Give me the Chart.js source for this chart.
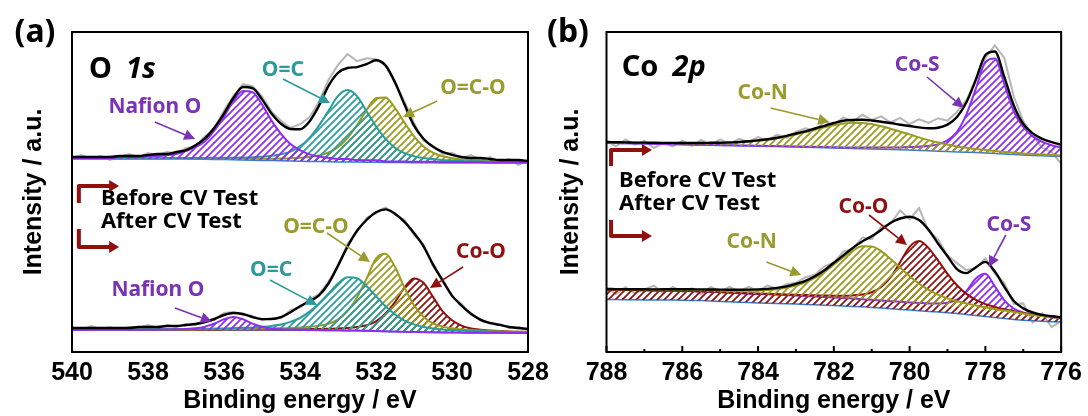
<!DOCTYPE html>
<html>
<head>
<meta charset="utf-8">
<script src="https://cdn.jsdelivr.net/npm/chart.js@4.4.1/dist/chart.umd.min.js"></script>
<style>
  html, body { margin: 0; padding: 0; background: #fff; }
  #wrap { position: relative; width: 1088px; height: 416px; overflow: hidden; }
  canvas { position: absolute; top: 0; }
  #chartA { left: 0; }
  #chartB { left: 544px; }
</style>
</head>
<body>
<div id="wrap">
  <canvas id="chartA" width="568" height="416"></canvas>
  <canvas id="chartB" width="544" height="416"></canvas>
</div>
<script>
// ---- O 1s (panel a) ----
const energyO1s = [
  540, 539.75, 539.5, 539.25, 539, 538.75, 538.5, 538.25, 538, 537.75, 537.5, 537.25, 537, 536.75, 536.5, 536.25,
  536, 535.75, 535.5, 535.25, 535, 534.75, 534.5, 534.25, 534, 533.75, 533.5, 533.25, 533, 532.75, 532.5, 532.25,
  532, 531.75, 531.5, 531.25, 531, 530.75, 530.5, 530.25, 530, 529.75, 529.5, 529.25, 529, 528.75, 528.5, 528.25,
  528
];

// before CV: background and peak heights above it
const bgO1sBefore = [
  193, 193, 193, 193, 193, 193, 193, 193, 193, 193, 193, 193, 192.9, 192.8, 192.7, 192.6,
  192.4, 192.2, 192, 191.8, 191.6, 191.4, 191.2, 191, 190.8, 190.6, 190.4, 190.2, 190.1, 190, 189.9, 189.8,
  189.7, 189.6, 189.5, 189.4, 189.3, 189.2, 189.2, 189.1, 189.1, 189, 189, 189, 189, 189, 189, 189,
  189
];
const nafionO1sBefore = [
  1, 1, 1, 1, 1, 2, 2, 2, 3, 3, 4, 5, 8, 12, 18, 29,
  43, 59, 69, 68, 56, 40, 27, 17, 11, 7, 5, 4, 3, 3, 2, 2,
  2, 1, 1, 1, 1, 1, 1, 1, 1, 1, 1, 1, 0.5, 0.5, 0.5, 0.4,
  0.4
];
const ocO1sBefore = [
  0.4, 0.4, 0.4, 0.5, 0.5, 0.6, 0.6, 0.7, 0.7, 0.8, 0.9, 1.0, 1.1, 1.2, 1.4, 1.6,
  1.8, 2.1, 2.5, 3.0, 3.7, 4.8, 6.5, 9.4, 14.8, 23.5, 36, 51, 66, 72, 66, 51,
  36, 23.5, 14.8, 9.4, 6.5, 4.8, 3.7, 3.0, 2.5, 2.1, 1.8, 1.6, 1.4, 1.2, 1.1, 1.0,
  0.9
];
const ocoO1sBefore = [
  0.3, 0.3, 0.3, 0.3, 0.3, 0.4, 0.4, 0.4, 0.4, 0.5, 0.5, 0.6, 0.6, 0.7, 0.8, 0.9,
  1.0, 1.1, 1.2, 1.4, 1.6, 1.9, 2.2, 2.7, 3.4, 4.4, 6.2, 9.3, 14.8, 24, 37, 52,
  64, 65, 54.5, 40, 26.4, 16.4, 10.1, 6.6, 4.7, 3.6, 2.9, 2.4, 2.0, 1.7, 1.5, 1.3,
  1.1
];
const envO1sBefore = [
  2, 2, 2, 2, 2, 3, 3, 3, 4, 5, 5, 7, 9, 14, 21, 32,
  46, 62, 73, 72, 61, 47, 37, 32, 32, 40, 56, 76, 89, 94, 95, 98,
  102, 97, 80, 58, 37, 24, 16, 11, 8, 6, 5, 5, 4, 3, 3, 3,
  2
];
const rawO1sBefore = [
  1, 4, 0, 3, -1, 2, 5, 2, 6, 4, 7, 6, 11, 13, 23, 31,
  49, 64, 76, 74, 64, 49, 40, 33, 37, 44, 60, 82, 97, 108, 101, 104,
  103, 97, 81, 61, 40, 22, 17, 9, 10, 5, 8, 3, 6, 1, 4, -2,
  3
];

// after CV
const bgO1sAfter = [
  22, 22, 22, 22, 22, 22, 22, 22, 22, 22, 22, 22, 22, 22, 22, 22,
  22, 22, 22, 21.9, 21.9, 21.9, 21.8, 21.8, 21.7, 21.7, 21.6, 21.5, 21.4, 21.3, 21.2, 21,
  20.8, 20.6, 20.3, 20.1, 19.9, 19.7, 19.6, 19.5, 19.4, 19.3, 19.2, 19.2, 19.1, 19.1, 19, 19,
  19
];
const nafionO1sAfter = [
  0.1, 0.1, 0.2, 0.2, 0.2, 0.2, 0.3, 0.3, 0.3, 0.4, 0.5, 0.7, 1.0, 1.7, 3.4, 6.5,
  10.7, 13, 10.7, 6.5, 3.4, 1.7, 1.0, 0.7, 0.5, 0.4, 0.3, 0.3, 0.3, 0.2, 0.2, 0.2,
  0.2, 0.1, 0.1, 0.1, 0.1, 0.1, 0.1, 0.1, 0.1, 0.1, 0.1, 0.1, 0.1, 0.1, 0.1, 0.1,
  0.1
];
const ocO1sAfter = [
  0.4, 0.4, 0.4, 0.4, 0.5, 0.5, 0.6, 0.6, 0.7, 0.7, 0.8, 0.9, 1.0, 1.1, 1.3, 1.4,
  1.6, 1.9, 2.2, 2.7, 3.3, 4.2, 5.7, 8.3, 12.3, 18.7, 27, 36.9, 47.1, 53.4, 52.5, 45.1,
  35.1, 25.1, 17.3, 11.3, 7.7, 5.3, 4.0, 3.1, 2.5, 2.2, 1.8, 1.6, 1.4, 1.2, 1.1, 1.0,
  0.9
];
const ocoO1sAfter = [
  0.2, 0.2, 0.3, 0.3, 0.3, 0.3, 0.3, 0.4, 0.4, 0.4, 0.5, 0.5, 0.5, 0.6, 0.7, 0.7,
  0.8, 0.9, 1.1, 1.2, 1.4, 1.7, 2.0, 2.3, 2.9, 3.6, 4.7, 6.8, 10.9, 19.5, 33.2, 52.3,
  72.5, 77.6, 64.7, 44.3, 26.8, 15.6, 9.1, 5.9, 4.3, 3.4, 2.7, 2.2, 1.9, 1.6, 1.3, 1.2,
  1.0
];
const cooO1sAfter = [
  0.1, 0.1, 0.1, 0.1, 0.2, 0.2, 0.2, 0.2, 0.2, 0.2, 0.2, 0.2, 0.3, 0.3, 0.3, 0.3,
  0.4, 0.4, 0.5, 0.5, 0.6, 0.7, 0.8, 0.9, 1.0, 1.2, 1.4, 1.7, 2.2, 2.8, 3.8, 5.7,
  9.9, 18, 29.7, 44.3, 53.7, 49.5, 35.5, 21.3, 12.3, 7.1, 4.4, 3.1, 2.4, 1.8, 1.5, 1.3,
  1.1
];
const envO1sAfter = [
  2, 2, 2, 2, 2, 2, 2, 3, 3, 3, 4, 4, 5, 6, 8, 11,
  15, 17, 16, 13, 11, 11, 13, 18, 24, 29, 35, 47, 65, 84, 100, 111,
  119, 122, 118, 110, 99, 86, 68, 52, 37, 27, 19, 13, 10, 8, 6, 5,
  4
];
const rawO1sAfter = [
  3, 0, 4, 1, 3, 0, 3, 2, 5, 2, 5, 3, 6, 5, 10, 10,
  17, 18, 15, 14, 10, 12, 12, 20, 23, 31, 36, 49, 64, 87, 99, 113,
  118, 124, 117, 112, 97, 88, 66, 54, 36, 29, 18, 14, 9, 9, 5, 6,
  3
];

// ---- Co 2p (panel b) ----
const energyCo2p = [
  788, 787.75, 787.5, 787.25, 787, 786.75, 786.5, 786.25, 786, 785.75, 785.5, 785.25, 785, 784.75, 784.5, 784.25,
  784, 783.75, 783.5, 783.25, 783, 782.75, 782.5, 782.25, 782, 781.75, 781.5, 781.25, 781, 780.75, 780.5, 780.25,
  780, 779.75, 779.5, 779.25, 779, 778.75, 778.5, 778.25, 778, 777.75, 777.5, 777.25, 777, 776.75, 776.5, 776.25,
  776
];

const bgCo2pBefore = [
  209, 208.8, 208.6, 208.4, 208.2, 208, 207.8, 207.6, 207.4, 207.2, 207, 206.8, 206.6, 206.4, 206.2, 206,
  205.8, 205.6, 205.4, 205.2, 205, 204.7, 204.5, 204.2, 204, 203.7, 203.5, 203.2, 203, 202.7, 202.5, 202.2,
  202, 201.6, 201.2, 200.8, 200.4, 200, 199.7, 199.4, 199, 198.5, 198, 197.5, 197, 196.6, 196.2, 195.8,
  195.4
];
const coNCo2pBefore = [
  0.7, 0.8, 0.8, 0.9, 1.0, 1.0, 1.1, 1.3, 1.4, 1.6, 1.8, 2.1, 2.4, 2.9, 3.5, 4.4,
  5.4, 6.7, 8.4, 10.2, 12.6, 15, 17.6, 20.4, 22.7, 24.7, 25.8, 25.9, 25, 23.1, 20.8, 18.1,
  15.6, 13, 10.7, 8.7, 7.0, 5.6, 4.6, 3.6, 3.1, 2.5, 2.1, 1.9, 1.6, 1.5, 1.3, 1.2,
  1.1
];
const coSCo2pBefore = [
  0.1, 0.1, 0.1, 0.1, 0.2, 0.2, 0.2, 0.2, 0.2, 0.2, 0.2, 0.3, 0.3, 0.3, 0.3, 0.4,
  0.4, 0.4, 0.5, 0.5, 0.6, 0.6, 0.7, 0.8, 0.8, 0.9, 1.1, 1.2, 1.4, 1.7, 2.0, 2.4,
  2.9, 3.7, 4.8, 6.8, 11.2, 20.2, 38, 64, 91, 95, 70, 43, 28, 19, 14, 11,
  9
];
const envCo2pBefore = [
  1, 1, 1, 1, 1.2, 1.2, 1.3, 1.5, 1.6, 1.8, 2, 2.4, 2.7, 3.2, 3.8, 4.8,
  5.8, 7.1, 8.9, 11, 13.5, 16, 19, 22, 25, 27.5, 28.5, 29, 28.5, 27.5, 26.5, 25,
  24, 23, 22.5, 23.5, 27, 35, 50, 73, 98, 102, 77, 49, 31, 22, 17, 14,
  12
];
const rawCo2pBefore = [
  2, -3, 4, -1, 3, -4, 1, -2, 4, -1, 5, 0, 6, 2, 7, 4,
  9, 6, 12, 9, 15, 19, 17, 26, 23, 31, 27, 34, 29, 33, 27, 32,
  26, 31, 28, 33, 31, 40, 52, 74, 95, 108, 96, 58, 34, 20, 8, 4,
  -7
];

// after CV: lower (blue) background and the fitted background the Co-N / Co-S peaks sit on
const bgLowCo2pAfter = [
  52.5, 52.4, 52.3, 52.2, 52.1, 52, 52, 51.9, 51.8, 51.6, 51.4, 51, 50.6, 50.2, 49.8, 49.4,
  49, 48.8, 48.6, 48.3, 48, 47.6, 47.2, 46.8, 46.4, 46, 45.6, 45.2, 44.6, 44, 43.3, 42.6,
  42, 41.3, 40.6, 40, 39.2, 38.4, 37.4, 36.4, 35.4, 34.4, 33.4, 32.6, 31.8, 31.2, 30.7, 30.3,
  30
];
const bgHighCo2pAfter = [
  62, 61.9, 61.8, 61.7, 61.6, 61.4, 61.3, 61.1, 61, 60.7, 60.4, 60, 59.6, 59.1, 58.7, 58.2,
  57.8, 57.5, 57.1, 56.7, 56.2, 55.7, 55.2, 54.7, 54.2, 53.6, 53.1, 52.5, 51.8, 51.1, 50.3, 49.5,
  48.8, 48, 47.2, 46.5, 45.7, 44.9, 43.9, 42.8, 41.6, 40.4, 39.2, 38, 36.6, 35.5, 34.6, 33.8,
  33
];
const coNCo2pAfter = [
  0.7, 0.7, 0.8, 0.8, 0.9, 1.0, 1.1, 1.2, 1.3, 1.4, 1.6, 1.8, 2.0, 2.3, 2.6, 3.0,
  3.6, 4.4, 5.7, 7.6, 10.3, 14, 18.9, 25.4, 33.1, 41.2, 48.3, 53.2, 53.6, 49.7, 42.7, 35.1,
  27, 20.3, 15, 10.8, 7.9, 5.9, 4.7, 3.8, 3.1, 2.6, 2.3, 2.1, 1.8, 1.6, 1.5, 1.3,
  1.2
];
const coOCo2pAfter = [
  0.2, 0.2, 0.2, 0.2, 0.2, 0.2, 0.3, 0.3, 0.3, 0.3, 0.3, 0.4, 0.4, 0.5, 0.5, 0.6,
  0.6, 0.7, 0.8, 0.9, 1.1, 1.2, 1.5, 1.8, 2.1, 2.7, 3.5, 5.0, 8.0, 13.9, 24.5, 40.3,
  56.4, 62.9, 56.7, 45.2, 32.4, 21.8, 14.2, 9.3, 6.3, 4.7, 3.6, 2.9, 2.5, 2.1, 1.8, 1.6,
  1.4
];
const coSCo2pAfter = [
  0.1, 0.1, 0.1, 0.1, 0.1, 0.1, 0.1, 0.1, 0.1, 0.1, 0.1, 0.1, 0.1, 0.1, 0.1, 0.1,
  0.2, 0.2, 0.2, 0.2, 0.2, 0.2, 0.2, 0.3, 0.3, 0.3, 0.3, 0.3, 0.4, 0.4, 0.5, 0.7,
  0.8, 1.1, 1.4, 2.1, 3.5, 7.4, 17, 30.7, 36.6, 25.3, 12.5, 5.5, 2.8, 1.8, 1.3, 1.0,
  0.7
];
const envCo2pAfter = [
  1, 1, 1, 1, 1.1, 1.2, 1.4, 1.6, 1.8, 2, 2.2, 2.5, 2.8, 3.2, 3.6, 4.2,
  4.8, 5.6, 7, 9, 12, 15.5, 20.5, 27, 35, 43, 51, 58, 64, 71, 79, 84,
  86.5, 84, 75, 62, 50, 38, 35, 42, 48.5, 40, 26, 13, 7, 4, 2.5, 2,
  1.7
];
const rawCo2pAfter = [
  2, -4, 3, -3, 1, 5, -2, 4, -1, 3, -3, 5, 1, 6, 2, 7,
  3, 9, 6, 11, 13, 19, 22, 31, 35, 47, 50, 62, 61, 74, 78, 92,
  84, 96, 74, 66, 51, 44, 38, 41, 52, 38, 30, 10, 12, -6, 4, -9,
  -2
];

// ---- styling ----
const PURPLE = '#8f2cf0', PURPLE_TXT = '#7a33b5';
const TEAL = '#2a9d9d', TEAL_TXT = '#2c9a9a';
const OLIVE = '#9b9b1f', OLIVE_TXT = '#9a9a2e';
const DARKRED = '#901010';
const BLUE = '#2f7fd8';
const GREY = '#b6b6b6';
const LABEL_FONT = '"Noto Sans", "DejaVu Sans", sans-serif';
const AXIS_FONT = 'Liberation Sans';

function hatch(color) {
  const s = 7;
  const c = document.createElement('canvas');
  c.width = s; c.height = s;
  const g = c.getContext('2d');
  g.strokeStyle = color;
  g.lineWidth = 1.7;
  g.beginPath();
  g.moveTo(0, s); g.lineTo(s, 0);
  g.moveTo(-1, 1); g.lineTo(1, -1);
  g.moveTo(s - 1, s + 1); g.lineTo(s + 1, s - 1);
  g.stroke();
  return g.createPattern(c, 'repeat');
}

// background + height -> points on the energy axis
function curve(energy, base, h) {
  return energy.map((e, i) => ({ x: e, y: h ? base[i] + h[i] : base[i] }));
}

function rawLine(data) {
  return { data, borderColor: GREY, borderWidth: 2, pointRadius: 0, tension: 0, fill: false, order: 10 };
}
function bgLine(data, color) {
  return { data, borderColor: color || BLUE, borderWidth: 1.5, pointRadius: 0, tension: 0, fill: false, order: 6 };
}
function peak(data, color, target) {
  return {
    data, borderColor: color, borderWidth: 2, pointRadius: 0,
    cubicInterpolationMode: 'monotone',
    fill: { target }, backgroundColor: hatch(color), order: 3
  };
}
function envLine(data) {
  return { data, borderColor: '#000', borderWidth: 2.4, pointRadius: 0, cubicInterpolationMode: 'monotone', fill: false, order: 0 };
}

function arrow(ctx, x1, y1, x2, y2, color) {
  const ang = Math.atan2(y2 - y1, x2 - x1);
  const head = 11, half = 5.5;
  const bx = x2 - head * Math.cos(ang), by = y2 - head * Math.sin(ang);
  ctx.strokeStyle = color; ctx.fillStyle = color; ctx.lineWidth = 1.6;
  ctx.beginPath(); ctx.moveTo(x1, y1); ctx.lineTo(bx, by); ctx.stroke();
  ctx.beginPath();
  ctx.moveTo(x2, y2);
  ctx.lineTo(bx + half * Math.sin(ang), by - half * Math.cos(ang));
  ctx.lineTo(bx - half * Math.sin(ang), by + half * Math.cos(ang));
  ctx.closePath(); ctx.fill();
}

function bracket(ctx, x0, yEnd, yCorner, x1) {
  ctx.strokeStyle = DARKRED; ctx.fillStyle = DARKRED;
  ctx.lineWidth = 4; ctx.lineJoin = 'round'; ctx.lineCap = 'butt';
  ctx.beginPath(); ctx.moveTo(x0, yEnd); ctx.lineTo(x0, yCorner); ctx.lineTo(x1 - 8, yCorner); ctx.stroke();
  ctx.beginPath(); ctx.moveTo(x1, yCorner); ctx.lineTo(x1 - 10, yCorner - 6); ctx.lineTo(x1 - 10, yCorner + 6);
  ctx.closePath(); ctx.fill();
}

// frame, panel letter, element title, peak labels with arrows, before/after legend
function notesPlugin(n) {
  return {
    id: 'notes',
    afterDraw(chart) {
      const { ctx, chartArea: a, scales: { x, y } } = chart;
      const X = v => x.getPixelForValue(v), Y = v => y.getPixelForValue(v);
      ctx.save();
      ctx.strokeStyle = '#000'; ctx.lineWidth = 2;
      ctx.strokeRect(a.left, a.top, a.right - a.left, a.bottom - a.top);
      if (n.innerTicks) {
        x.ticks.forEach(t => {
          const len = t.value % 2 === 0 ? 6 : 3;
          ctx.beginPath(); ctx.moveTo(X(t.value), a.bottom); ctx.lineTo(X(t.value), a.bottom - len); ctx.stroke();
        });
      }

      ctx.fillStyle = '#000'; ctx.textAlign = 'center'; ctx.textBaseline = 'middle';
      ctx.font = 'bold 32px ' + LABEL_FONT;
      ctx.fillText(n.letter.text, n.letter.x, n.letter.y);

      ctx.textAlign = 'left'; ctx.textBaseline = 'alphabetic';
      ctx.font = 'bold 29px ' + LABEL_FONT;
      const tx = X(n.title.e), ty = Y(n.title.y);
      ctx.fillText(n.title.plain, tx, ty);
      const w = ctx.measureText(n.title.plain).width;
      ctx.font = 'italic bold 29px ' + LABEL_FONT;
      ctx.fillText(n.title.italic, tx + w + 14, ty);

      ctx.font = 'bold 21px ' + LABEL_FONT;
      ctx.textAlign = 'center'; ctx.textBaseline = 'middle';
      n.labels.forEach(l => {
        ctx.fillStyle = l.color;
        ctx.fillText(l.text, X(l.e), Y(l.y));
        arrow(ctx, X(l.from[0]), Y(l.from[1]), X(l.to[0]), Y(l.to[1]), l.color);
      });

      const g = n.legend;
      ctx.fillStyle = '#000'; ctx.textAlign = 'left';
      ctx.font = 'bold 22px ' + LABEL_FONT;
      ctx.fillText('Before CV Test', X(g.e), Y(g.before));
      ctx.fillText('After CV Test', X(g.e), Y(g.after));
      bracket(ctx, X(g.bx[0]), Y(g.top[0]), Y(g.top[1]), X(g.bx[1]));
      bracket(ctx, X(g.bx[0]), Y(g.bottom[0]), Y(g.bottom[1]), X(g.bx[1]));
      ctx.restore();
    }
  };
}

function makePanel(id, datasets, opt) {
  return new Chart(document.getElementById(id), {
    type: 'line',
    data: { datasets },
    options: {
      responsive: false, animation: false, devicePixelRatio: 1, events: [],
      layout: { padding: { top: 32, right: opt.padRight, left: 0, bottom: 0 } },
      plugins: { legend: { display: false }, tooltip: { enabled: false } },
      scales: {
        x: {
          type: 'linear', min: opt.min, max: opt.max, reverse: true,
          grid: { display: false, drawTicks: false }, border: { display: false },
          ticks: {
            stepSize: opt.step, autoSkip: false, maxRotation: 0, padding: 6, color: '#000',
            font: { family: AXIS_FONT, weight: 'bold', size: 25 },
            callback: v => (v % 2 === 0 ? String(v) : '')
          },
          title: {
            display: true, text: 'Binding energy / eV', color: '#000',
            font: { family: AXIS_FONT, weight: 'bold', size: 25 }, padding: { top: 0, bottom: 0 }
          },
          afterFit: s => { s.height = 64; }
        },
        y: {
          min: 0, max: 320,
          grid: { display: false, drawTicks: false }, border: { display: false },
          ticks: { display: false },
          title: {
            display: true, text: 'Intensity / a.u.', color: '#000',
            font: { family: AXIS_FONT, weight: 'bold', size: 25 }, padding: { top: opt.yTitlePad, bottom: 0 }
          },
          afterFit: s => { s.width = opt.yWidth; }
        }
      }
    },
    plugins: [notesPlugin(opt.notes)]
  });
}

// panel a datasets: indices 1 and 7 are the backgrounds the peaks are filled down to
const E1 = energyO1s;
const datasetsA = [
  rawLine(curve(E1, bgO1sBefore, rawO1sBefore)),
  bgLine(curve(E1, bgO1sBefore)),
  peak(curve(E1, bgO1sBefore, nafionO1sBefore), PURPLE, 1),
  peak(curve(E1, bgO1sBefore, ocO1sBefore), TEAL, 1),
  peak(curve(E1, bgO1sBefore, ocoO1sBefore), OLIVE, 1),
  envLine(curve(E1, bgO1sBefore, envO1sBefore)),
  rawLine(curve(E1, bgO1sAfter, rawO1sAfter)),
  bgLine(curve(E1, bgO1sAfter)),
  peak(curve(E1, bgO1sAfter, nafionO1sAfter), PURPLE, 7),
  peak(curve(E1, bgO1sAfter, ocO1sAfter), TEAL, 7),
  peak(curve(E1, bgO1sAfter, ocoO1sAfter), OLIVE, 7),
  peak(curve(E1, bgO1sAfter, cooO1sAfter), DARKRED, 7),
  envLine(curve(E1, bgO1sAfter, envO1sAfter))
];

// panel b datasets: 1 = background before CV, 6 = lower background, 7 = fitted background after CV
const E2 = energyCo2p;
const bgHighLine = bgLine(curve(E2, bgHighCo2pAfter), 'rgba(0,0,0,0)');
const datasetsB = [
  rawLine(curve(E2, bgCo2pBefore, rawCo2pBefore)),
  bgLine(curve(E2, bgCo2pBefore)),
  peak(curve(E2, bgCo2pBefore, coNCo2pBefore), OLIVE, 1),
  peak(curve(E2, bgCo2pBefore, coSCo2pBefore), PURPLE, 1),
  envLine(curve(E2, bgCo2pBefore, envCo2pBefore)),
  rawLine(curve(E2, bgHighCo2pAfter, rawCo2pAfter)),
  bgLine(curve(E2, bgLowCo2pAfter)),
  bgHighLine,
  peak(curve(E2, bgHighCo2pAfter, coNCo2pAfter), OLIVE, 7),
  peak(curve(E2, bgHighCo2pAfter, coOCo2pAfter), DARKRED, 6),
  peak(curve(E2, bgHighCo2pAfter, coSCo2pAfter), PURPLE, 7),
  envLine(curve(E2, bgHighCo2pAfter, envCo2pAfter))
];

makePanel('chartA', datasetsA, {
  min: 528, max: 540, step: 2, padRight: 40, yWidth: 72, yTitlePad: 19,
  notes: {
    letter: { text: '(a)', x: 35, y: 33 },
    title: { e: 539.55, y: 274, plain: 'O', italic: '1s' },
    labels: [
      { text: 'Nafion O', color: PURPLE_TXT, e: 537.82, y: 245, from: [537.82, 230], to: [536.76, 213] },
      { text: 'O=C', color: TEAL_TXT, e: 534.45, y: 282, from: [534.45, 273], to: [533.21, 249] },
      { text: 'O=C-O', color: OLIVE_TXT, e: 529.45, y: 264, from: [530.39, 251], to: [531.29, 235] },
      { text: 'Nafion O', color: PURPLE_TXT, e: 537.74, y: 62, from: [537.29, 44], to: [536.32, 30.5] },
      { text: 'O=C', color: TEAL_TXT, e: 534.76, y: 82, from: [534.79, 72], to: [533.55, 47] },
      { text: 'O=C-O', color: OLIVE_TXT, e: 533.58, y: 125, from: [533.29, 119], to: [532.16, 90] },
      { text: 'Co-O', color: DARKRED, e: 529.24, y: 100, from: [529.71, 85], to: [530.58, 64] }
    ],
    legend: { e: 539.24, before: 153, after: 130, bx: [539.82, 538.76], top: [149, 166], bottom: [123, 105] }
  }
});

makePanel('chartB', datasetsB, {
  min: 776, max: 788, step: 1, padRight: 25, yWidth: 62.5, yTitlePad: 12,
  notes: {
    innerTicks: true,
    letter: { text: '(b)', x: 24, y: 33 },
    title: { e: 787.6, y: 276, plain: 'Co', italic: '2p' },
    labels: [
      { text: 'Co-N', color: OLIVE_TXT, e: 783.88, y: 259, from: [783.67, 244], to: [782.12, 230] },
      { text: 'Co-S', color: PURPLE_TXT, e: 779.8, y: 287, from: [779.54, 275], to: [778.57, 244] },
      { text: 'Co-O', color: DARKRED, e: 781.22, y: 145, from: [781.07, 137], to: [780.07, 107] },
      { text: 'Co-N', color: OLIVE_TXT, e: 784.17, y: 110, from: [783.78, 90], to: [782.86, 77] },
      { text: 'Co-S', color: PURPLE_TXT, e: 777.38, y: 127, from: [777.46, 117], to: [777.91, 85] }
    ],
    legend: { e: 787.67, before: 171, after: 148, bx: [787.88, 786.8], top: [186, 202], bottom: [132, 116] }
  }
});
</script>
</body>
</html>
